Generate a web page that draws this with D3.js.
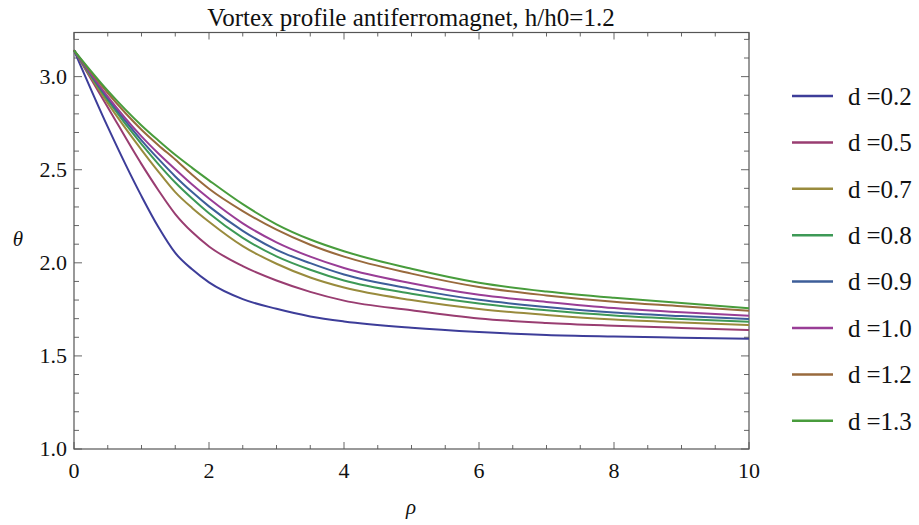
<!DOCTYPE html>
<html>
<head>
<meta charset="utf-8">
<script src="https://cdn.jsdelivr.net/npm/d3@7"></script>
<style>
  html, body { margin: 0; padding: 0; background: #fff; }
  svg { display: block; }
  text { font-family: "Liberation Serif", "Times New Roman", "DejaVu Serif", serif; fill: #111; }
</style>
</head>
<body>
<svg id="chart" width="919" height="525"></svg>
<script>
// ---- data ----
const rhoValues = [0, 0.5, 1, 1.25, 1.5, 1.75, 2, 2.5, 3, 3.5, 4, 5, 6, 7, 8, 9, 10];
const seriesNames = ["d=0.2", "d=0.5", "d=0.7", "d=0.8", "d=0.9", "d=1.0", "d=1.2", "d=1.3"];
const theta_d02 = [3.1416, 2.73, 2.358, 2.192, 2.053, 1.965, 1.895, 1.805, 1.753, 1.712, 1.685, 1.651, 1.628, 1.612, 1.604, 1.598, 1.592];
const theta_d05 = [3.1416, 2.836, 2.53, 2.39, 2.262, 2.165, 2.088, 1.982, 1.905, 1.844, 1.797, 1.745, 1.701, 1.677, 1.662, 1.650, 1.639];
const theta_d07 = [3.1416, 2.858, 2.607, 2.49, 2.38, 2.295, 2.221, 2.09, 1.995, 1.921, 1.867, 1.800, 1.752, 1.720, 1.695, 1.680, 1.666];
const theta_d08 = [3.1416, 2.874, 2.637, 2.53, 2.431, 2.345, 2.266, 2.134, 2.035, 1.963, 1.905, 1.834, 1.781, 1.745, 1.717, 1.698, 1.684];
const theta_d09 = [3.1416, 2.884, 2.658, 2.558, 2.464, 2.38, 2.303, 2.172, 2.07, 1.998, 1.937, 1.860, 1.801, 1.763, 1.733, 1.714, 1.698];
const theta_d10 = [3.1416, 2.893, 2.679, 2.587, 2.502, 2.42, 2.345, 2.212, 2.11, 2.033, 1.972, 1.890, 1.828, 1.790, 1.757, 1.734, 1.716];
const theta_d12 = [3.1416, 2.912, 2.715, 2.632, 2.555, 2.473, 2.398, 2.278, 2.178, 2.097, 2.033, 1.942, 1.870, 1.825, 1.791, 1.767, 1.743];
const theta_d13 = [3.1416, 2.925, 2.738, 2.657, 2.580, 2.51, 2.443, 2.315, 2.207, 2.125, 2.062, 1.968, 1.893, 1.846, 1.812, 1.784, 1.756];
const xMajorTicks = [0, 2, 4, 6, 8, 10];
const yMajorTicks = [1.0, 1.5, 2.0, 2.5, 3.0];
const titleText = "Vortex profile antiferromagnet, h/h0=1.2";
const xLabel = "ρ";
const yLabel = "θ";

const allSeries = [theta_d02, theta_d05, theta_d07, theta_d08, theta_d09, theta_d10, theta_d12, theta_d13];
const colors = ["rgb(61,61,153)", "rgb(153,61,113)", "rgb(153,139,61)", "rgb(61,153,86)",
                "rgb(61,94,153)", "rgb(153,61,150)", "rgb(153,106,61)", "rgb(72,156,60)"];

// ---- layout ----
const svg = d3.select("#chart");
const mLeft = 74, mRight = 749, mTop = 32.5, mBottom = 449;
const x = d3.scaleLinear().domain([0, 10]).range([mLeft, mRight]);
const y = d3.scaleLinear().domain([1, 3.237]).range([mBottom, mTop]);

const frameColor = "#555";
const xMinor = d3.range(0, 10.001, 0.5).filter(v => Math.abs(v % 2) > 1e-6);
const yMinor = d3.range(1, 3.2301, 0.1).filter(v => Math.round(v * 10) % 5 !== 0);

// ticks on all four sides (inward)
const ticksG = svg.append("g").attr("stroke", "#666").attr("stroke-width", 1);
xMajorTicks.forEach(v => {
  ticksG.append("line").attr("x1", x(v)).attr("x2", x(v)).attr("y1", mBottom).attr("y2", mBottom - 7);
  ticksG.append("line").attr("x1", x(v)).attr("x2", x(v)).attr("y1", mTop).attr("y2", mTop + 7);
});
xMinor.forEach(v => {
  ticksG.append("line").attr("x1", x(v)).attr("x2", x(v)).attr("y1", mBottom).attr("y2", mBottom - 4);
  ticksG.append("line").attr("x1", x(v)).attr("x2", x(v)).attr("y1", mTop).attr("y2", mTop + 4);
});
yMajorTicks.forEach(v => {
  ticksG.append("line").attr("x1", mLeft).attr("x2", mLeft + 8).attr("y1", y(v)).attr("y2", y(v));
  ticksG.append("line").attr("x1", mRight).attr("x2", mRight - 8).attr("y1", y(v)).attr("y2", y(v));
});
yMinor.forEach(v => {
  ticksG.append("line").attr("x1", mLeft).attr("x2", mLeft + 5).attr("y1", y(v)).attr("y2", y(v));
  ticksG.append("line").attr("x1", mRight).attr("x2", mRight - 5).attr("y1", y(v)).attr("y2", y(v));
});

// frame
svg.append("rect").attr("x", mLeft).attr("y", mTop).attr("width", mRight - mLeft).attr("height", mBottom - mTop)
  .attr("fill", "none").attr("stroke", frameColor).attr("stroke-width", 1.2);

// tick labels
svg.append("g").selectAll("text").data(xMajorTicks).join("text")
  .attr("x", d => x(d)).attr("y", 478).attr("text-anchor", "middle")
  .attr("font-size", 22).text(d => d3.format("d")(d));
svg.append("g").selectAll("text").data(yMajorTicks).join("text")
  .attr("x", 67).attr("y", d => y(d)).attr("dy", "0.34em").attr("text-anchor", "end")
  .attr("font-size", 22).text(d => d3.format(".1f")(d));

// curves
const plotG = svg.append("g");
const line = d3.line().x(d => x(d[0])).y(d => y(d[1])).curve(d3.curveMonotoneX);
allSeries.forEach((vals, i) => {
  const pts = rhoValues.map((r, k) => [r, vals[k]]);
  plotG.append("path").attr("d", line(pts)).attr("fill", "none")
    .attr("stroke", colors[i]).attr("stroke-width", 2).attr("stroke-linejoin", "round");
});

// title and axis labels
svg.append("text").attr("x", 411).attr("y", 26).attr("text-anchor", "middle")
  .attr("font-size", 25).text(titleText);
svg.append("text").attr("x", 411).attr("y", 514).attr("text-anchor", "middle")
  .attr("font-size", 21).attr("font-style", "italic").text(xLabel);
svg.append("text").attr("x", 18).attr("y", 246).attr("text-anchor", "middle")
  .attr("font-size", 21).attr("font-style", "italic").text(yLabel);

// legend
const legG = svg.append("g");
seriesNames.forEach((name, i) => {
  const ly = 96 + i * 46.4;
  legG.append("line").attr("x1", 792).attr("x2", 833).attr("y1", ly).attr("y2", ly)
    .attr("stroke", colors[i]).attr("stroke-width", 2.5);
  const t = legG.append("text").attr("x", 848).attr("y", ly).attr("dy", "0.35em").attr("font-size", 25);
  const parts = name.split("=");
  t.append("tspan").text(parts[0]);
  t.append("tspan").attr("dx", 6).text("=" + parts[1]);
});
</script>
</body>
</html>
